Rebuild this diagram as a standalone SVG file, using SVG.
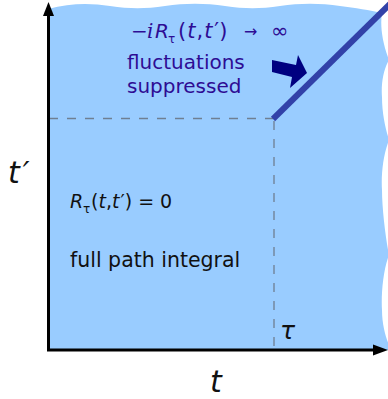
<svg xmlns="http://www.w3.org/2000/svg" width="388" height="399" viewBox="0 0 388 399">
  <style>
    .lbl { font-family: "DejaVu Sans", Verdana, sans-serif; fill: #2e0c94; }
    .blk { font-family: "DejaVu Sans", Verdana, sans-serif; fill: #111111; }
    .it { font-style: italic; }
    .dash { stroke: #6f7f92; stroke-width: 1.3; stroke-dasharray: 9 9; fill: none; }
    .axis { stroke: #000000; stroke-width: 3; fill: none; }
  </style>
  <rect x="0" y="0" width="388" height="399" fill="#ffffff"/>
  <g id="region">
    <path d="M48,9 C70,3 90,3 110,6 C130,9 145,9 165,6 C185,3 205,3 225,6 C245,9 260,9 280,6 C300,3 320,3 340,6 C355,8 370,10 382,13 C380,25 382,42 389,60 C383,70 381,85 382,97 C382,115 386,130 389,140 C383,155 381,175 382,190 C382,210 386,240 389,255 C383,270 381,295 382,310 C382,325 386,338 389,345 L389,350 L48,350 Z" fill="#99ccff"/>
  </g>
  <g id="connectors">
    <line class="dash" x1="49" y1="118.5" x2="273" y2="118.5"/>
    <line class="dash" x1="274" y1="121" x2="274" y2="349"/>
    <line x1="273" y1="119" x2="390" y2="4" stroke="#3241a8" stroke-width="6"/>
    <polygon points="272,60 296,65 298,55 307,73 290,88 292,77 272,72" fill="#000080"/>
  </g>
  <g id="axes">
    <line class="axis" x1="48.5" y1="351" x2="48.5" y2="14"/>
    <polygon points="48.5,2 43,16 54,16" fill="#000"/>
    <line class="axis" x1="47" y1="350" x2="375" y2="350"/>
    <polygon points="388,350 373,344.5 373,355.5" fill="#000"/>
  </g>
  <g id="label-top">
    <text class="lbl" y="38" font-size="20">
      <tspan x="131">−</tspan><tspan x="147" class="it" font-family="DejaVu Serif, serif">i</tspan><tspan x="155" class="it">R</tspan><tspan x="168" y="43" font-size="12">τ</tspan><tspan x="178" y="38" font-size="21" letter-spacing="1">(</tspan><tspan class="it" font-size="21" letter-spacing="1">t</tspan><tspan font-size="21" letter-spacing="1">,</tspan><tspan class="it" font-size="21" letter-spacing="1">t</tspan><tspan font-size="21" dx="1">′)</tspan>
    </text>
    <text class="lbl" x="244" y="37" font-size="16">→</text>
    <text class="lbl" x="271" y="38" font-size="21">∞</text>
    <text class="lbl" x="127" y="69" font-size="20">fluctuations</text>
    <text class="lbl" x="127" y="93" font-size="20">suppressed</text>
  </g>
  <g id="label-bottom">
    <text class="blk" y="208" font-size="19">
      <tspan x="70" class="it">R</tspan><tspan x="83" y="213" font-size="12">τ</tspan><tspan x="91" y="208">(</tspan><tspan class="it">t</tspan><tspan>,</tspan><tspan class="it">t</tspan><tspan dx="1">′) = 0</tspan>
    </text>
    <text class="blk" x="70" y="267" font-size="20.5">full path integral</text>
  </g>
  <g id="axis-labels">
    <text class="blk it" x="8" y="183" font-size="30">t<tspan dx="3">′</tspan></text>
    <text class="blk it" x="210" y="392" font-size="30">t</text>
    <text class="blk it" x="280" y="339" font-size="25" font-family="DejaVu Serif, serif">τ</text>
  </g>
</svg>
